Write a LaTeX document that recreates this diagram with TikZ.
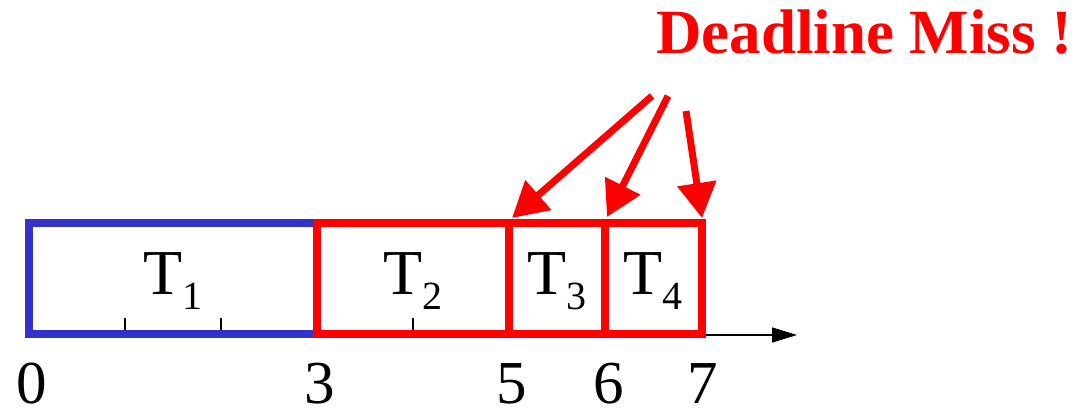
\documentclass[tikz,border=0pt]{standalone}
\usepackage{fontspec}
\setmainfont{Liberation Serif}
\usetikzlibrary{arrows.meta}
\definecolor{tblue}{RGB}{51,51,204}
\definecolor{tred}{RGB}{255,0,0}
\newcommand\tsk[1]{T\raisebox{-15pt}{\fontsize{40}{40}\selectfont #1}}
\begin{document}
\begin{tikzpicture}[x=1pt,y=-1pt,
  box/.style={line width=7.5pt},
  tickmark/.style={line width=1.3pt,black},
  lbl/.style={anchor=base,inner sep=0pt,font=\fontsize{64}{64}\selectfont},
  num/.style={anchor=base,inner sep=0pt,font=\fontsize{61}{61}\selectfont},
  miss/.style={draw=tred,line width=7pt,-{Triangle[length=35pt,width=38pt]}}
]
\useasboundingbox (0,0) rectangle (1084,410);
% axis
\coordinate (a0) at (29,335);
\coordinate (aend) at (797,335);
\draw[line width=1.4pt,-{Triangle[length=25pt,width=15pt]}] (a0) -- (aend);
% ticks
\foreach \x/\n in {125/t1,221/t2,413/t4}{
  \coordinate (\n b) at (\x,334);
  \coordinate (\n t) at (\x,318);
  \draw[tickmark] (\n b) -- (\n t);
}
% corner coordinates
\coordinate (p0t) at (29,223);  \coordinate (p0b) at (29,334);
\coordinate (p3t) at (317,223); \coordinate (p3b) at (317,334);
\coordinate (p5t) at (509,223); \coordinate (p5b) at (509,334);
\coordinate (p6t) at (605,223); \coordinate (p6b) at (605,334);
\coordinate (p7t) at (702,223); \coordinate (p7b) at (702,334);
% boxes
\draw[box,tblue] (p0t) rectangle (p3b);
\draw[box,tred] (p3t) rectangle (p5b);
\draw[box,tred] (p5t) rectangle (p6b);
\draw[box,tred] (p6t) rectangle (p7b);
% task labels
\node[lbl] (T1) at (173,294) {\tsk{1}};
\node[lbl] (T2) at (413,294) {\tsk{2}};
\node[lbl] (T3) at (557,294) {\tsk{3}};
\node[lbl] (T4) at (653,294) {\tsk{4}};
% axis numbers
\node[num] (n0) at (32,403) {0};
\node[num] (n3) at (320,403) {3};
\node[num] (n5) at (512,403) {5};
\node[num] (n6) at (609,403) {6};
\node[num] (n7) at (703,403) {7};
% deadline miss
\node[anchor=base west,inner sep=0pt,text=tred,font=\fontsize{63}{63}\selectfont\bfseries] (dm) at (656,53) {Deadline Miss !};
\coordinate (s1) at (652,96);
\coordinate (s2) at (668,96);
\coordinate (s3) at (686,111);
\coordinate (e1) at (512,218);
\coordinate (e2) at (607,217);
\coordinate (e3) at (702,218);
\draw[miss] (s1) -- (e1);
\draw[miss] (s2) -- (e2);
\draw[miss] (s3) -- (e3);
\end{tikzpicture}
\end{document}
